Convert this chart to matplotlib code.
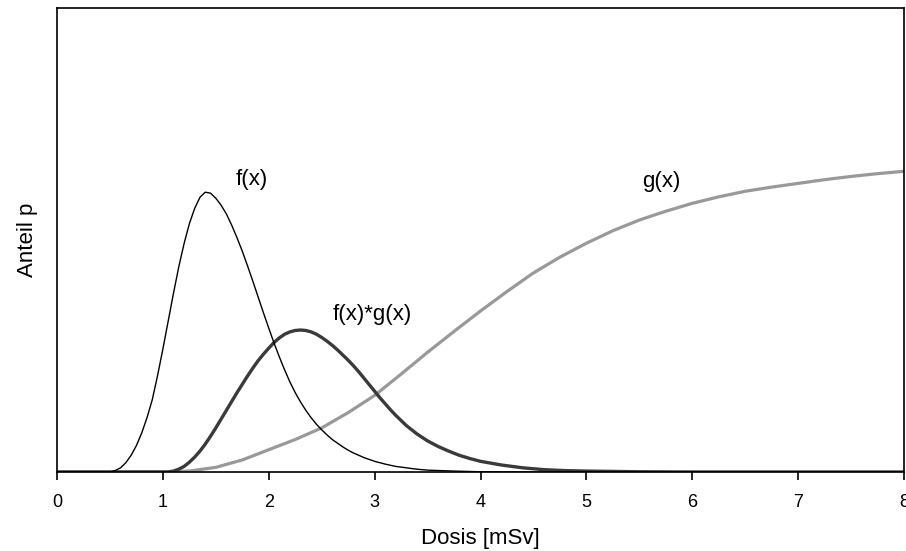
import numpy as np
import matplotlib.pyplot as plt

plt.rcParams['font.family'] = ['Liberation Sans', 'DejaVu Sans']

# f(x): Dosisverteilung (Anteil, relativ zur Achsenhoehe)
x_f = [0, 0.5, 0.55, 0.6, 0.65, 0.7, 0.75, 0.8, 0.85, 0.9, 0.95, 1.0, 1.05, 1.1, 1.15,
       1.2, 1.25, 1.3, 1.35, 1.4, 1.45, 1.5, 1.55, 1.6, 1.65, 1.7, 1.75, 1.8, 1.85,
       1.9, 1.95, 2.0, 2.05, 2.1, 2.15, 2.2, 2.25, 2.3, 2.35, 2.4, 2.45, 2.5, 2.55,
       2.6, 2.65, 2.7, 2.75, 2.8, 2.9, 3.0, 3.1, 3.2, 3.3, 3.4, 3.5, 3.75, 4.0, 4.5, 8.0]
y_f = [0, 0.0, 0.003, 0.009, 0.020, 0.036, 0.057, 0.084, 0.117, 0.156, 0.208, 0.265,
       0.325, 0.385, 0.442, 0.492, 0.535, 0.568, 0.592, 0.603, 0.601, 0.590, 0.575,
       0.556, 0.532, 0.505, 0.476, 0.444, 0.411, 0.377, 0.343, 0.310, 0.278, 0.248,
       0.220, 0.194, 0.171, 0.151, 0.133, 0.117, 0.103, 0.091, 0.080, 0.070, 0.062,
       0.054, 0.047, 0.041, 0.031, 0.023, 0.017, 0.012, 0.009, 0.006, 0.004, 0.002,
       0.0005, 0.0, 0.0]

# g(x): Dosis-Wirkungs-Kurve
x_g = [0, 1.0, 1.25, 1.5, 1.75, 2.0, 2.25, 2.5, 2.75, 3.0, 3.25, 3.5, 3.75, 4.0, 4.25,
       4.5, 4.75, 5.0, 5.25, 5.5, 5.75, 6.0, 6.25, 6.5, 6.75, 7.0, 7.25, 7.5, 7.75, 8.0]
y_g = [0, 0.0, 0.002, 0.010, 0.026, 0.048, 0.070, 0.095, 0.128, 0.165, 0.211, 0.258,
       0.303, 0.347, 0.389, 0.429, 0.463, 0.493, 0.520, 0.543, 0.562, 0.579, 0.593,
       0.605, 0.614, 0.622, 0.630, 0.637, 0.643, 0.648]

# f(x)*g(x)
x_fg = [0, 1.05, 1.1, 1.15, 1.2, 1.25, 1.3, 1.35, 1.4, 1.45, 1.5, 1.55, 1.6, 1.65, 1.7,
        1.75, 1.8, 1.85, 1.9, 1.95, 2.0, 2.05, 2.1, 2.15, 2.2, 2.25, 2.3, 2.35, 2.4,
        2.45, 2.5, 2.55, 2.6, 2.65, 2.7, 2.75, 2.8, 2.85, 2.9, 2.95, 3.0, 3.05, 3.1,
        3.15, 3.2, 3.3, 3.4, 3.5, 3.6, 3.7, 3.8, 3.9, 4.0, 4.2, 4.4, 4.6, 4.8, 5.0,
        5.5, 6.0, 8.0]
y_fg = [0, 0.0, 0.002, 0.006, 0.012, 0.021, 0.032, 0.045, 0.060, 0.077, 0.095, 0.114,
        0.133, 0.152, 0.171, 0.189, 0.207, 0.224, 0.240, 0.254, 0.267, 0.279, 0.289,
        0.297, 0.302, 0.305, 0.306, 0.305, 0.302, 0.297, 0.290, 0.282, 0.273, 0.263,
        0.252, 0.241, 0.229, 0.216, 0.202, 0.188, 0.174, 0.160, 0.147, 0.134, 0.122,
        0.100, 0.082, 0.067, 0.055, 0.045, 0.036, 0.029, 0.023, 0.015, 0.009, 0.005,
        0.003, 0.002, 0.0005, 0.0, 0.0]

labels = ["f(x)", "g(x)", "f(x)*g(x)"]
label_pos = [(1.84, 0.63), (5.71, 0.627), (2.98, 0.34)]

fig = plt.figure(figsize=(9.06, 5.51), dpi=100)
ax = fig.add_axes([57 / 906, 79 / 551, 847 / 906, 464 / 551])

ax.plot(x_g, y_g, color='#999999', lw=2.3, solid_capstyle='butt')
ax.plot(x_fg, y_fg, color='#3a3a3a', lw=2.4, solid_capstyle='butt')
ax.plot(x_f, y_f, color='black', lw=1.0)

for txt, (tx, ty) in zip(labels, label_pos):
    ax.text(tx, ty, txt, fontsize=16, ha='center', va='center')

ax.set_xlim(0, 8)
ax.set_ylim(0, 1)
ax.set_xticks(range(0, 9))
ax.set_yticks([])
ax.tick_params(axis='x', direction='out', length=6, width=1.2, pad=10, labelsize=13)
for sp in ax.spines.values():
    sp.set_linewidth(1.2)

ax.set_xlabel("Dosis [mSv]", fontsize=16, labelpad=12)
ax.set_ylabel("Anteil p", fontsize=16, labelpad=14)

fig.savefig("out.png", dpi=100)
